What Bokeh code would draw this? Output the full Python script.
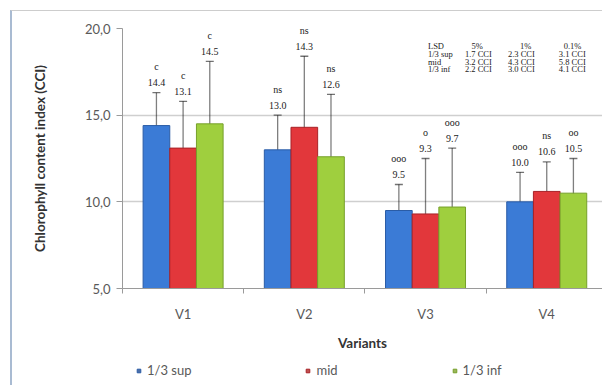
from bokeh.plotting import figure
from bokeh.layouts import column
from bokeh.models import (Range1d, FixedTicker, Legend, LegendItem, Label,
                          ColumnDataSource, Whisker, TeeHead)
from bokeh.core.properties import value
from bokeh.embed import file_html
from bokeh.resources import INLINE

# ---------------- data ----------------
variants = ["V1", "V2", "V3", "V4"]
series_names = ["1/3 sup", "mid", "1/3 inf"]
sup_vals = [14.4, 13.0, 9.5, 10.0]
mid_vals = [13.1, 14.3, 9.3, 10.6]
inf_vals = [14.5, 12.6, 9.7, 10.5]
sup_err = [1.9, 2.0, 1.5, 1.7]
mid_err = [2.7, 4.1, 3.2, 1.7]
inf_err = [3.6, 3.6, 3.4, 2.0]
sup_sig = ["c", "ns", "ooo", "ooo"]
mid_sig = ["c", "ns", "o", "ns"]
inf_sig = ["c", "ns", "ooo", "oo"]
lsd_header = ["LSD", "5%", "1%", "0.1%"]
lsd_rows = ["1/3 sup", "mid", "1/3 inf"]
lsd_5 = ["1.7 CCI", "3.2 CCI", "2.2 CCI"]
lsd_1 = ["2.3 CCI", "4.3 CCI", "3.0 CCI"]
lsd_01 = ["3.1 CCI", "5.8 CCI", "4.1 CCI"]
y_ticks = [5, 10, 15, 20]
y_tick_labels = ["5,0", "10,0", "15,0", "20,0"]

# ---------------- styling ----------------
fills = ["#3b7bd6", "#e2373b", "#9fcf3e"]
edges = ["#2a5ca6", "#a82227", "#76a02a"]
legend_fills = ["#4a6ea8", "#c05050", "#9bb55a"]
FONT = "Lato"
GRAY = "#595959"
SERIF = "Liberation Serif"

p = figure(width=592, height=350, output_backend="svg", toolbar_location=None,
           x_range=Range1d(0, 3.96), y_range=Range1d(5, 20),
           min_border_left=110, min_border_right=2, min_border_top=17,
           min_border_bottom=73)
p.outline_line_color = None
p.background_fill_color = "white"
p.border_fill_color = "white"

# axes
p.yaxis.ticker = FixedTicker(ticks=y_ticks)
p.yaxis.major_label_overrides = {t: l for t, l in zip(y_ticks, y_tick_labels)}
p.yaxis.minor_tick_line_color = None
p.yaxis.major_tick_out = 6
p.yaxis.major_tick_in = 0
p.yaxis.axis_line_color = "#9a9a9a"
p.yaxis.major_tick_line_color = "#9a9a9a"
p.yaxis.major_label_text_font = FONT
p.yaxis.major_label_text_font_size = "13px"
p.yaxis.major_label_text_color = GRAY
p.yaxis.major_label_standoff = 6
p.yaxis.axis_label = "Chlorophyll content index (CCI)"
p.yaxis.axis_label_text_font = FONT
p.yaxis.axis_label_text_font_size = "13.5px"
p.yaxis.axis_label_text_font_style = "bold"
p.yaxis.axis_label_text_color = "#333333"
p.yaxis.axis_label_standoff = 34

centers = [i + 0.5 for i in range(len(variants))]
p.xaxis.ticker = FixedTicker(ticks=centers, minor_ticks=list(range(len(variants) + 1)))
p.xaxis.major_label_overrides = {c: v for c, v in zip(centers, variants)}
p.xaxis.major_tick_out = 0
p.xaxis.major_tick_in = 0
p.xaxis.minor_tick_out = 5
p.xaxis.minor_tick_in = 0
p.xaxis.minor_tick_line_color = "#9a9a9a"
p.xaxis.axis_line_color = "#9a9a9a"
p.xaxis.major_label_text_font = FONT
p.xaxis.major_label_text_font_size = "13px"
p.xaxis.major_label_text_color = GRAY
p.xaxis.major_label_standoff = 12
p.xaxis.axis_label = "Variants"
p.xaxis.axis_label_text_font = FONT
p.xaxis.axis_label_text_font_size = "13.5px"
p.xaxis.axis_label_text_font_style = "bold"
p.xaxis.axis_label_text_color = "#333333"
p.xaxis.axis_label_standoff = 10

p.xgrid.grid_line_color = None
p.ygrid.ticker = FixedTicker(ticks=y_ticks)
p.ygrid.grid_line_color = "#cfcfcf"
p.ygrid.grid_line_width = 1.5

# bars
offsets = [-0.22, 0.0, 0.22]
vals_all = [sup_vals, mid_vals, inf_vals]
errs_all = [sup_err, mid_err, inf_err]
sigs_all = [sup_sig, mid_sig, inf_sig]
for k in range(3):
    xs = [c + offsets[k] for c in centers]
    vals = vals_all[k]
    errs = errs_all[k]
    src = ColumnDataSource(dict(
        x=xs, top=vals,
        lower=[v - e for v, e in zip(vals, errs)],
        upper=[v + e for v, e in zip(vals, errs)],
        vlab=[f"{v:.1f}" for v in vals],
        sig=sigs_all[k]))
    p.vbar(x="x", top="top", bottom=5, width=0.22, source=src,
           fill_color=fills[k], line_color=edges[k], line_width=1)
    w = Whisker(base="x", lower="lower", upper="upper", source=src,
                line_color="black", line_alpha=0.5, line_width=1.3,
                upper_head=TeeHead(size=8, line_color="black", line_alpha=0.55, line_width=1.3),
                lower_head=TeeHead(size=8, line_color="black", line_alpha=0.55, line_width=1.3))
    p.add_layout(w)
    p.text(x="x", y="upper", text="vlab", source=src, y_offset=-10,
           text_align="center", text_baseline="middle",
           text_font=value(SERIF), text_font_size="10px",
           text_color="#222222")
    p.text(x="x", y="upper", text="sig", source=src, y_offset=-26,
           text_align="center", text_baseline="middle",
           text_font=value(SERIF), text_font_size="10px",
           text_color="#222222")

# LSD table
row_y = [18.99, 18.55, 18.08, 17.65]
col_x_head = [2.52, 2.88, 3.28, 3.64]
col_x_val = [2.52, 2.825, 3.18, 3.60]
for txt, xx in zip(lsd_header, col_x_head):
    p.add_layout(Label(x=xx, y=row_y[0], text=txt, text_font=SERIF,
                       text_font_size="8.5px", text_color="#222222", text_baseline="middle"))
for r in range(3):
    for txt, xx in zip([lsd_rows[r], lsd_5[r], lsd_1[r], lsd_01[r]], col_x_val):
        p.add_layout(Label(x=xx, y=row_y[r + 1], text=txt, text_font=SERIF,
                           text_font_size="8.5px", text_color="#222222",
                           text_baseline="middle"))

# legend strip (separate small figure underneath)
lp = figure(width=592, height=24, output_backend="svg", toolbar_location=None,
            x_range=Range1d(0, 1), y_range=Range1d(0, 1),
            min_border=0, min_border_left=0, min_border_right=0,
            min_border_top=0, min_border_bottom=0)
lp.axis.visible = False
lp.grid.visible = False
lp.outline_line_color = None
lp.background_fill_color = "white"
lp.border_fill_color = "white"
legend_items = []
for k in range(3):
    lr = lp.scatter(x=[-5], y=[-5], marker="square", size=9,
                    fill_color=legend_fills[k], line_color=edges[k])
    legend_items.append(LegendItem(label=series_names[k], renderers=[lr]))
legend = Legend(items=legend_items, orientation="horizontal", location=(12, 7),
                spacing=112, glyph_width=9, glyph_height=9, padding=0,
                margin=0, label_text_font=FONT, label_text_font_size="13px",
                label_text_color=GRAY, label_standoff=4,
                background_fill_alpha=0, border_line_color=None)
lp.add_layout(legend, "center")

layout = column(p, lp, spacing=0)
layout.styles = {"margin-left": "10px", "margin-top": "10px",
                 "border-left": "2px solid #a9bbd2", "border-top": "1px solid #cdcdcd"}

open("out.html", "w").write(file_html(layout, INLINE))
